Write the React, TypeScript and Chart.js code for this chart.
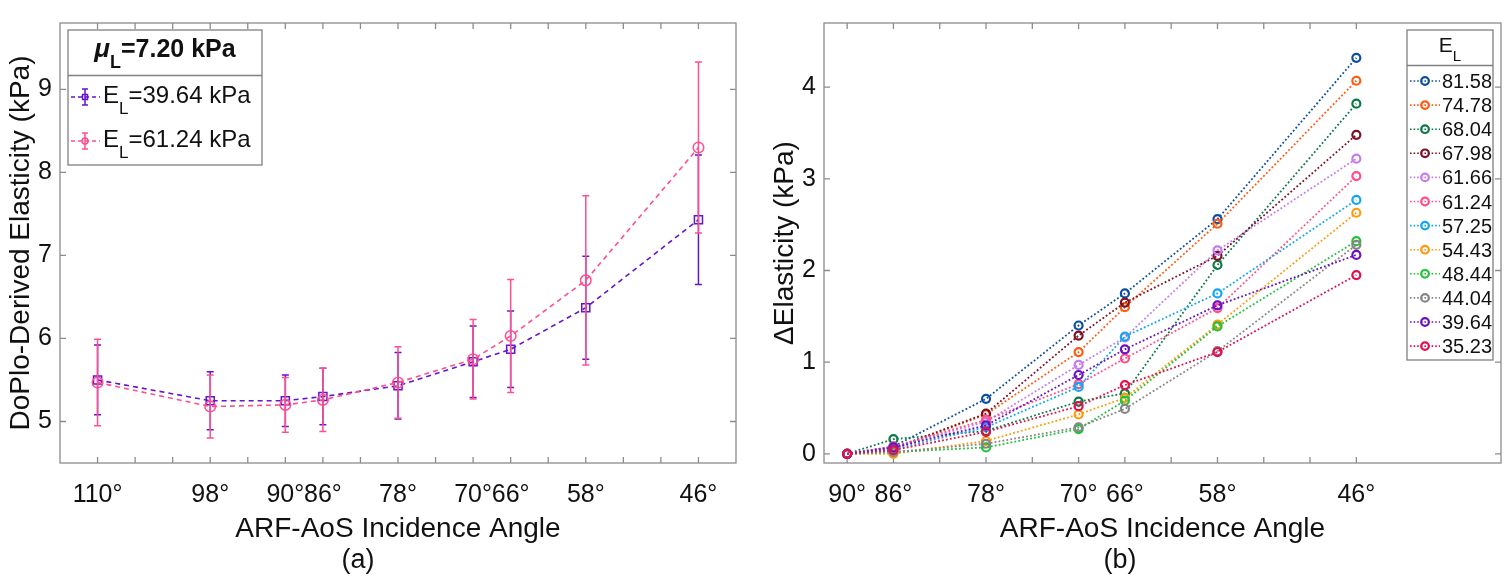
import React, { useEffect, useRef } from "react";
import { Chart, registerables } from "chart.js";

Chart.register(...registerables);

const FONT = "'Liberation Sans', Arial, Helvetica, sans-serif";
const TEXT = "#111111";
const FRAME = "#8c8c8c";

// ---------- panel (a): DoPlo-derived elasticity vs. incidence angle ----------
const ANGLES_A = [110, 98, 90, 86, 78, 70, 66, 58, 46];
const X_TICKS_A = [110, 106, 102, 98, 94, 90, 86, 82, 78, 74, 70, 66, 62, 58, 54, 50, 46];
const X_LABELS_A = [110, 98, 90, 86, 78, 70, 66, 58, 46];
const Y_TICKS_A = [5, 6, 7, 8, 9];
const MU_L = "7.20";
const EL_A = ["39.64", "61.24"];
const MEAN_3964 = [5.5, 5.25, 5.25, 5.3, 5.43, 5.72, 5.87, 6.37, 7.43];
const SD_3964 = [0.42, 0.35, 0.31, 0.34, 0.4, 0.43, 0.46, 0.62, 0.78];
const MEAN_6124 = [5.47, 5.18, 5.2, 5.26, 5.47, 5.75, 6.03, 6.7, 8.3];
const SD_6124 = [0.52, 0.38, 0.33, 0.38, 0.43, 0.48, 0.68, 1.02, 1.03];
const COLOR_3964 = "#6415cf";
const COLOR_6124 = "#ff4f8e";

// ---------- panel (b): change in elasticity vs. incidence angle ----------
const ANGLES_B = [90, 86, 78, 70, 66, 58, 46];
const X_TICKS_B = [90, 86, 82, 78, 74, 70, 66, 62, 58, 54, 50, 46];
const X_LABELS_B = [90, 86, 78, 70, 66, 58, 46];
const Y_TICKS_B = [0, 1, 2, 3, 4];
const EL_B = ["81.58", "74.78", "68.04", "67.98", "61.66", "61.24", "57.25", "54.43", "48.44", "44.04", "39.64", "35.23"];
const D_8158 = [0, 0.08, 0.6, 1.4, 1.75, 2.56, 4.32];
const D_7478 = [0, 0.05, 0.43, 1.11, 1.6, 2.51, 4.07];
const D_6804 = [0, 0.16, 0.25, 0.57, 0.66, 2.06, 3.82];
const D_6798 = [0, 0.06, 0.44, 1.29, 1.65, 2.16, 3.48];
const D_6166 = [0, 0.07, 0.35, 0.97, 1.27, 2.22, 3.22];
const D_6124 = [0, 0.08, 0.37, 0.76, 1.04, 1.59, 3.03];
const D_5725 = [0, 0.05, 0.29, 0.73, 1.28, 1.75, 2.77];
const D_5443 = [0, 0.0, 0.14, 0.43, 0.61, 1.41, 2.63];
const D_4844 = [0, 0.02, 0.07, 0.27, 0.58, 1.39, 2.32];
const D_4404 = [0, 0.02, 0.11, 0.29, 0.49, 1.12, 2.28];
const D_3964 = [0, 0.07, 0.31, 0.86, 1.14, 1.62, 2.17];
const D_3523 = [0, 0.04, 0.24, 0.52, 0.75, 1.11, 1.95];
const SERIES_B = [D_8158, D_7478, D_6804, D_6798, D_6166, D_6124, D_5725, D_5443, D_4844, D_4404, D_3964, D_3523];
const COLORS_B = [
  "#0d4ea3", "#ff5a0e", "#0c7a45", "#7c1024", "#c47bf0", "#ff4f8a",
  "#13a7f3", "#ff9a0b", "#22c23b", "#858585", "#6a10c4", "#e0104f",
];

type Part = { text: string; font: string; dy?: number };

function drawRich(ctx: CanvasRenderingContext2D, parts: Part[], x: number, y: number, align: "left" | "center") {
  let total = 0;
  const widths = parts.map((p) => {
    ctx.font = p.font;
    const w = ctx.measureText(p.text).width;
    total += w;
    return w;
  });
  let cx = align === "center" ? x - total / 2 : x;
  ctx.textAlign = "left";
  ctx.textBaseline = "alphabetic";
  parts.forEach((p, i) => {
    ctx.font = p.font;
    ctx.fillText(p.text, cx, y + (p.dy || 0));
    cx += widths[i];
  });
}

// Axes box with inward tick marks on all four sides
const frameTicks = {
  id: "frameTicks",
  beforeDatasetsDraw(chart: any, _args: any, opts: any) {
    const { ctx, chartArea: a, scales } = chart;
    const len = opts.tickLength ?? 6;
    ctx.save();
    ctx.strokeStyle = opts.color || FRAME;
    ctx.lineWidth = opts.lineWidth || 1.3;
    ctx.beginPath();
    for (const t of scales.x.ticks) {
      const px = scales.x.getPixelForValue(t.value);
      ctx.moveTo(px, a.bottom);
      ctx.lineTo(px, a.bottom - len);
      ctx.moveTo(px, a.top);
      ctx.lineTo(px, a.top + len);
    }
    for (const t of scales.y.ticks) {
      const py = scales.y.getPixelForValue(t.value);
      ctx.moveTo(a.left, py);
      ctx.lineTo(a.left + len, py);
      ctx.moveTo(a.right, py);
      ctx.lineTo(a.right - len, py);
    }
    ctx.stroke();
    ctx.strokeRect(a.left, a.top, a.right - a.left, a.bottom - a.top);
    ctx.restore();
  },
};

// Vertical error bars with caps, drawn just before each dataset's line
const errorBars = {
  id: "errorBars",
  beforeDatasetDraw(chart: any, args: any) {
    const ds = chart.data.datasets[args.index];
    if (!ds.errors) return;
    const { ctx } = chart;
    const ys = chart.scales.y;
    ctx.save();
    ctx.strokeStyle = ds.borderColor;
    ctx.lineWidth = 1.5;
    ctx.setLineDash([]);
    const cap = 3.5;
    args.meta.data.forEach((pt: any, i: number) => {
      const v = ds.data[i].y;
      const e = ds.errors[i];
      const top = ys.getPixelForValue(v + e);
      const bot = ys.getPixelForValue(v - e);
      ctx.beginPath();
      ctx.moveTo(pt.x, top);
      ctx.lineTo(pt.x, bot);
      ctx.moveTo(pt.x - cap, top);
      ctx.lineTo(pt.x + cap, top);
      ctx.moveTo(pt.x - cap, bot);
      ctx.lineTo(pt.x + cap, bot);
      ctx.stroke();
    });
    ctx.restore();
  },
};

// Legend of panel (a): shear-modulus header and two error-bar entries
const legendA = {
  id: "legendA",
  afterDraw(chart: any) {
    const { ctx, chartArea: a } = chart;
    const x0 = a.left + 8;
    const y0 = a.top + 7;
    const w = 194;
    const h = 135;
    const sep = y0 + 45.5;
    ctx.save();
    ctx.fillStyle = "#ffffff";
    ctx.fillRect(x0, y0, w, h);
    ctx.strokeStyle = "#808080";
    ctx.lineWidth = 1.3;
    ctx.strokeRect(x0, y0, w, h);
    ctx.beginPath();
    ctx.moveTo(x0, sep);
    ctx.lineTo(x0 + w, sep);
    ctx.stroke();
    ctx.fillStyle = TEXT;
    drawRich(
      ctx,
      [
        { text: "\u03bc", font: `italic bold 26px ${FONT}` },
        { text: "L", font: `bold 18px ${FONT}`, dy: 11 },
        { text: `=${MU_L} kPa`, font: `bold 25px ${FONT}` },
      ],
      x0 + w / 2,
      y0 + 27,
      "center"
    );
    chart.data.datasets.forEach((ds: any, i: number) => {
      const base = y0 + 73 + i * 44;
      const cy = base - 6;
      const sx = x0 + 17;
      ctx.strokeStyle = ds.borderColor;
      ctx.lineWidth = 1.5;
      ctx.setLineDash([4, 3]);
      ctx.beginPath();
      ctx.moveTo(x0 + 3, cy);
      ctx.lineTo(x0 + 32, cy);
      ctx.stroke();
      ctx.setLineDash([]);
      ctx.beginPath();
      ctx.moveTo(sx, cy - 8);
      ctx.lineTo(sx, cy + 8);
      ctx.moveTo(sx - 3, cy - 8);
      ctx.lineTo(sx + 3, cy - 8);
      ctx.moveTo(sx - 3, cy + 8);
      ctx.lineTo(sx + 3, cy + 8);
      ctx.stroke();
      ctx.beginPath();
      if (ds.pointStyle === "rect") ctx.rect(sx - 2.5, cy - 2.5, 5, 5);
      else ctx.arc(sx, cy, 3, 0, Math.PI * 2);
      ctx.stroke();
      ctx.fillStyle = TEXT;
      drawRich(
        ctx,
        [
          { text: "E", font: `24px ${FONT}` },
          { text: "L", font: `17px ${FONT}`, dy: 11 },
          { text: `=${EL_A[i]} kPa`, font: `24px ${FONT}` },
        ],
        x0 + 35,
        base,
        "left"
      );
    });
    ctx.restore();
  },
};

// Legend of panel (b): E_L header and one entry per curve
const legendB = {
  id: "legendB",
  afterDraw(chart: any) {
    const { ctx, chartArea: a } = chart;
    const w = 86;
    const x0 = a.right - 8 - w;
    const y0 = a.top + 7;
    const h = 330;
    const sep = y0 + 35.5;
    ctx.save();
    ctx.fillStyle = "#ffffff";
    ctx.fillRect(x0, y0, w, h);
    ctx.strokeStyle = "#808080";
    ctx.lineWidth = 1.3;
    ctx.strokeRect(x0, y0, w, h);
    ctx.beginPath();
    ctx.moveTo(x0, sep);
    ctx.lineTo(x0 + w, sep);
    ctx.stroke();
    ctx.fillStyle = TEXT;
    drawRich(
      ctx,
      [
        { text: "E", font: `21px ${FONT}` },
        { text: "L", font: `15px ${FONT}`, dy: 9 },
      ],
      x0 + w / 2,
      y0 + 22,
      "center"
    );
    chart.data.datasets.forEach((ds: any, i: number) => {
      const base = y0 + 58 + i * 24.1;
      const cy = base - 7;
      ctx.strokeStyle = ds.borderColor;
      ctx.lineWidth = 1.6;
      ctx.setLineDash([1.6, 2]);
      ctx.beginPath();
      ctx.moveTo(x0 + 3, cy);
      ctx.lineTo(x0 + 33, cy);
      ctx.stroke();
      ctx.setLineDash([]);
      ctx.lineWidth = 2.2;
      ctx.beginPath();
      ctx.arc(x0 + 18, cy, 3.8, 0, Math.PI * 2);
      ctx.stroke();
      ctx.fillStyle = TEXT;
      ctx.font = `20px ${FONT}`;
      ctx.textAlign = "left";
      ctx.textBaseline = "alphabetic";
      ctx.fillText(EL_B[i], x0 + 35, base);
    });
    ctx.restore();
  },
};

// Panel letter under the axis title
const panelLetter = {
  id: "panelLetter",
  afterDraw(chart: any, _args: any, opts: any) {
    const { ctx } = chart;
    ctx.save();
    ctx.fillStyle = TEXT;
    ctx.font = `27px ${FONT}`;
    ctx.textAlign = "center";
    ctx.textBaseline = "middle";
    ctx.fillText(opts.text, opts.x, opts.y);
    ctx.restore();
  },
};

function xScale(min: number, max: number, ticks: number[], labels: number[]) {
  return {
    type: "linear",
    reverse: true,
    min,
    max,
    afterBuildTicks: (s: any) => {
      s.ticks = ticks.map((v) => ({ value: v }));
    },
    afterFit: (s: any) => {
      s.height = 120;
    },
    grid: { display: false, drawTicks: false },
    border: { display: false },
    ticks: {
      autoSkip: false,
      maxRotation: 0,
      padding: 17,
      color: TEXT,
      font: { family: FONT, size: 25 },
      callback: (v: any) => (labels.includes(Number(v)) ? `${v}\u00b0` : ""),
    },
    title: {
      display: true,
      text: "ARF-AoS Incidence Angle",
      color: TEXT,
      font: { family: FONT, size: 28 },
      padding: { top: 0, bottom: 37 },
    },
  };
}

function yScale(min: number, max: number, ticks: number[], width: number, title: string, titlePad: number) {
  return {
    type: "linear",
    min,
    max,
    afterBuildTicks: (s: any) => {
      s.ticks = ticks.map((v) => ({ value: v }));
    },
    afterFit: (s: any) => {
      s.width = width;
    },
    grid: { display: false, drawTicks: false },
    border: { display: false },
    ticks: {
      padding: 8,
      color: TEXT,
      font: { family: FONT, size: 25 },
      callback: (v: any) => String(v),
    },
    title: {
      display: true,
      text: title,
      color: TEXT,
      font: { family: FONT, size: 28 },
      padding: { top: titlePad, bottom: 0 },
    },
  };
}

function configA(): any {
  const make = (label: string, means: number[], sds: number[], color: string, style: string, r: number, order: number) => ({
    label,
    order,
    data: ANGLES_A.map((x, i) => ({ x, y: means[i] })),
    errors: sds,
    borderColor: color,
    borderWidth: 1.6,
    borderDash: [5, 4],
    pointStyle: style,
    pointRadius: r,
    pointBorderWidth: 1.5,
    pointBorderColor: color,
    pointBackgroundColor: "rgba(0,0,0,0)",
    tension: 0,
  });
  return {
    type: "line",
    data: {
      datasets: [
        make(`E_L=${EL_A[0]} kPa`, MEAN_3964, SD_3964, COLOR_3964, "rect", 5.7, 1),
        make(`E_L=${EL_A[1]} kPa`, MEAN_6124, SD_6124, COLOR_6124, "circle", 5.3, 0),
      ],
    },
    plugins: [frameTicks, errorBars, legendA, panelLetter],
    options: {
      animation: false,
      responsive: false,
      events: [],
      layout: { padding: { top: 9, right: 19, left: 0, bottom: 0 } },
      plugins: {
        legend: { display: false },
        tooltip: { enabled: false },
        frameTicks: { tickLength: 6 },
        panelLetter: { text: "(a)", x: 358, y: 561 },
      },
      scales: {
        x: xScale(42, 114, X_TICKS_A, X_LABELS_A),
        y: yScale(4.5, 9.8, Y_TICKS_A, 60, "DoPlo-Derived Elasticity (kPa)", 4),
      },
    },
  };
}

function configB(): any {
  return {
    type: "line",
    data: {
      datasets: SERIES_B.map((vals, k) => ({
        label: EL_B[k],
        order: SERIES_B.length - k,
        data: ANGLES_B.map((x, i) => ({ x, y: vals[i] })),
        borderColor: COLORS_B[k],
        borderWidth: 1.8,
        borderDash: [1.8, 2.2],
        pointStyle: "circle",
        pointRadius: 4,
        pointBorderWidth: 2.2,
        pointBorderColor: COLORS_B[k],
        pointBackgroundColor: "rgba(0,0,0,0)",
        tension: 0,
      })),
    },
    plugins: [frameTicks, legendB, panelLetter],
    options: {
      animation: false,
      responsive: false,
      events: [],
      layout: { padding: { top: 9, right: 9, left: 0, bottom: 0 } },
      plugins: {
        legend: { display: false },
        tooltip: { enabled: false },
        frameTicks: { tickLength: 6 },
        panelLetter: { text: "(b)", x: 365, y: 561 },
      },
      scales: {
        x: xScale(33.5, 92, X_TICKS_B, X_LABELS_B),
        y: yScale(-0.1, 4.7, Y_TICKS_B, 69, "\u0394Elasticity (kPa)", 13),
      },
    },
  };
}

export default function App() {
  const leftRef = useRef<HTMLCanvasElement>(null);
  const rightRef = useRef<HTMLCanvasElement>(null);

  useEffect(() => {
    const a = new Chart(leftRef.current as HTMLCanvasElement, configA());
    const b = new Chart(rightRef.current as HTMLCanvasElement, configB());
    return () => {
      a.destroy();
      b.destroy();
    };
  }, []);

  return (
    <div
      style={{
        position: "absolute",
        left: 0,
        top: 0,
        width: 1510,
        height: 583,
        background: "#ffffff",
        display: "flex",
      }}
    >
      <canvas ref={leftRef} width={755} height={583} style={{ display: "block" }} />
      <canvas ref={rightRef} width={755} height={583} style={{ display: "block" }} />
    </div>
  );
}
